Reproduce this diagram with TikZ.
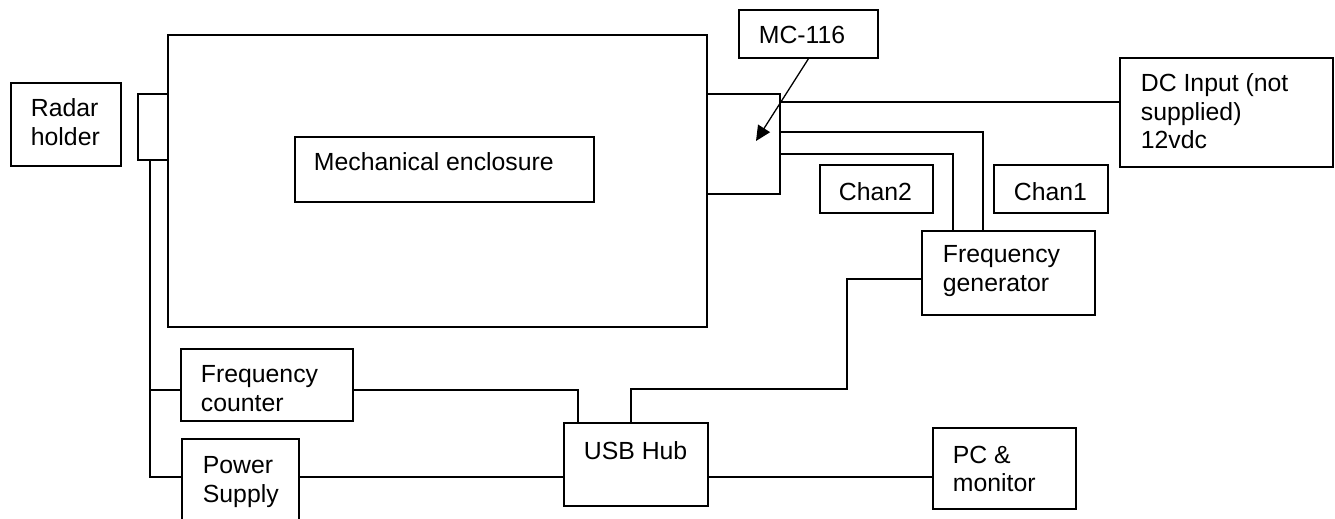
\documentclass[tikz,border=0pt]{standalone}
\usepackage{fontspec}
\setmainfont{Liberation Sans}
\usetikzlibrary{arrows.meta,calc}
\begin{document}
\begin{tikzpicture}[x=1pt,y=-1pt, line width=1.8pt,
  box/.style={draw, rectangle, inner sep=0pt, anchor=north west},
  lbl/.style={inner sep=0pt, anchor=north west, align=left, font=\fontsize{24.8}{28.5}\selectfont},
  pointer/.style={-{Triangle[length=15pt,width=14pt]}, line width=1.3pt}]
\useasboundingbox (0,0) rectangle (1335,519);
\fill[white] (0,0) rectangle (1335,519);
% boxes
\node[box, minimum width=110pt, minimum height=83pt] (rh) at (10,82) {};
\node[box, minimum width=539pt, minimum height=292pt] (me) at (167,34) {};
\node[box, minimum width=30pt, minimum height=66pt] (sb) at (137,93) {};
\node[box, minimum width=299pt, minimum height=65pt] (ie) at (294,136) {};
\node[box, minimum width=139pt, minimum height=48pt] (mc) at (738,9) {};
\node[box, minimum width=73pt, minimum height=100pt] (mcu) at (706,93) {};
\node[box, minimum width=213pt, minimum height=109pt] (dc) at (1119,57) {};
\node[box, minimum width=113pt, minimum height=48pt] (ch2) at (819,164) {};
\node[box, minimum width=114pt, minimum height=48pt] (ch1) at (993,164) {};
\node[box, minimum width=173pt, minimum height=84pt] (fg) at (921,230) {};
\node[box, minimum width=172pt, minimum height=72pt] (fc) at (180,348) {};
\node[box, draw=none, minimum width=115pt, minimum height=74pt] (ps) at (182,439) {};
\draw (ps.north west |- 0,530) -- (ps.north west) -- (ps.north east) -- (ps.north east |- 0,530);
\node[box, minimum width=144pt, minimum height=83pt] (hub) at (563,422) {};
\node[box, minimum width=143pt, minimum height=81pt] (pc) at (932,427) {};
% labels
\node[lbl] (trh) at (30,98) {Radar\\holder};
\node[lbl] (tie) at (313,152) {Mechanical enclosure};
\node[lbl] (tmc) at (758,25) {MC-116};
\node[lbl] (tdc) at (1140,73) {DC Input (not\\supplied)\\12vdc};
\node[lbl] (tch2) at (838,182) {Chan2};
\node[lbl] (tch1) at (1013,182) {Chan1};
\node[lbl] (tfg) at (942,245) {Frequency\\generator};
\node[lbl] (tfc) at (200,365) {Frequency\\counter};
\node[lbl] (tps) at (202,456) {Power\\Supply};
\node[lbl] (thub) at (583,441) {USB Hub};
\node[lbl] (tpc) at (952,445) {PC \&\\monitor};
% connectors
\coordinate (bus) at (150,159);
\coordinate (fcl) at ([yshift=-5pt]fc.west);
\draw (bus) |- (ps.west);
\draw (bus |- fcl) -- (fcl);
\draw ([yshift=-5pt]fc.east) -| ([xshift=15pt]hub.north west);
\coordinate (j1) at (847,389);
\draw ([xshift=68pt]hub.north west) |- (j1) |- ([yshift=-6pt]fg.west);
\draw (ps.east) -- (ps.east -| hub.west);
\draw (ps.east -| hub.east) -- (ps.east -| pc.west);
\draw ([yshift=-9pt]mcu.north east) -- ([yshift=-9pt]mcu.north east -| dc.west);
\draw ([yshift=-39pt]mcu.north east) -| ([xshift=62pt]fg.north west);
\draw ([yshift=-61pt]mcu.north east) -| ([xshift=32pt]fg.north west);
\coordinate (tip) at (756,141);
\draw[pointer] (mc.south) -- (tip);
\end{tikzpicture}
\end{document}
